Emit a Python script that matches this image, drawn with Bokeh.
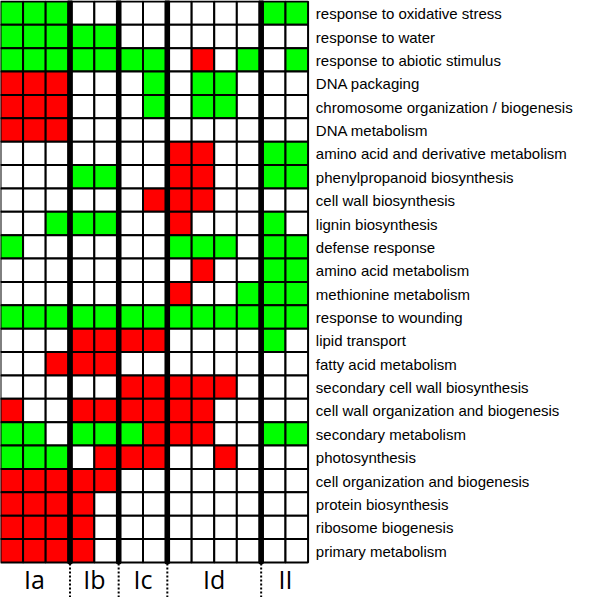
from bokeh.plotting import figure
from bokeh.models import ColumnDataSource, Range1d
from bokeh.core.properties import value
from bokeh.embed import file_html
from bokeh.resources import INLINE

# ---- data ----
terms = [
    "response to oxidative stress",
    "response to water",
    "response to abiotic stimulus",
    "DNA packaging",
    "chromosome organization / biogenesis",
    "DNA metabolism",
    "amino acid and derivative metabolism",
    "phenylpropanoid biosynthesis",
    "cell wall biosynthesis",
    "lignin biosynthesis",
    "defense response",
    "amino acid metabolism",
    "methionine metabolism",
    "response to wounding",
    "lipid transport",
    "fatty acid metabolism",
    "secondary cell wall biosynthesis",
    "cell wall organization and biogenesis",
    "secondary metabolism",
    "photosynthesis",
    "cell organization and biogenesis",
    "protein biosynthesis",
    "ribosome biogenesis",
    "primary metabolism",
]
groups = ["Ia", "Ib", "Ic", "Id", "II"]
group_sizes = [3, 2, 2, 4, 2]
# R = red (over-represented), G = green (under-represented), W = none
# one string per term, columns grouped as Ia | Ib | Ic | Id | II
cell_states = [
    "GGG WW WW WWWW GG",
    "GGG GG WW WWWW WW",
    "GGG GG GG WRWG WG",
    "RRR WW WG WGGW WW",
    "RRR WW WG WGGW WW",
    "RRR WW WW WWWW WW",
    "WWW WW WW RRWW GG",
    "WWW GG WW RRWW GG",
    "WWW WW WR RRWW WW",
    "WWG GG WW RWWW GW",
    "GWW WW WW GGGW GG",
    "WWW WW WW WRWW GG",
    "WWW WW WW RWWG GG",
    "GGG GG GG GGGG GG",
    "WWW RR RR WWWW GW",
    "WWR RR WW WWWW WW",
    "WWW WW RR RRRW WW",
    "RWW RR RR RRWW WW",
    "GGW GG GR RRWW GG",
    "GGG WR RR WWRW WW",
    "RRR RR WW WWWW WW",
    "RRR RW WW WWWW WW",
    "RRR RW WW WWWW WW",
    "RRR RW WW WWWW WW",
]
state_colors = {"R": "#FF0000", "G": "#00FF00", "W": "#FFFFFF"}

# ---- layout (reference pixel units) ----
CELL_W = 23.2
SEP = 3.6
ROW_H = 24.0
TOP = 1.0
SCALE = 584 / 600.0

# column left edges
col_left = []
group_bounds = []
x = 0.0
for gi, n in enumerate(group_sizes):
    start = x
    for _ in range(n):
        col_left.append(x)
        x += CELL_W
    group_bounds.append((start, x))
    x += SEP
grid_right = group_bounds[-1][1]
n_rows = len(terms)
grid_bottom = TOP + n_rows * ROW_H

lefts, rights, tops, bottoms, colors = [], [], [], [], []
for r, row in enumerate(cell_states):
    states = row.replace(" ", "")
    for c, s in enumerate(states):
        lefts.append(col_left[c])
        rights.append(col_left[c] + CELL_W)
        tops.append(TOP + r * ROW_H)
        bottoms.append(TOP + (r + 1) * ROW_H)
        colors.append(state_colors[s])

p = figure(width=584, height=597,
           x_range=Range1d(0, 600), y_range=Range1d(613, 0),
           output_backend="svg", toolbar_location=None,
           x_axis_type=None, y_axis_type=None,
           min_border=0, min_border_left=0, min_border_right=0,
           min_border_top=0, min_border_bottom=0)
p.grid.visible = False
p.outline_line_color = None
p.background_fill_color = "white"
p.border_fill_color = "white"

cells = ColumnDataSource(dict(left=lefts, right=rights, top=tops, bottom=bottoms, color=colors))
p.quad(left="left", right="right", top="top", bottom="bottom", source=cells,
       fill_color="color", line_color="black", line_width=2)

# thick separators between groups
sep_l = [group_bounds[i][1] for i in range(len(groups) - 1)]
sep_r = [group_bounds[i + 1][0] for i in range(len(groups) - 1)]
p.quad(left=sep_l, right=sep_r, top=[TOP - 1] * len(sep_l), bottom=[grid_bottom + 1] * len(sep_l),
       fill_color="black", line_color="black", line_width=1.5)

# dotted lines below the grid
sep_c = [(a + b) / 2 for a, b in zip(sep_l, sep_r)]
p.segment(x0=sep_c, x1=sep_c, y0=[grid_bottom + 1] * len(sep_c), y1=[613] * len(sep_c),
          line_color="black", line_width=2, line_dash="2 2")

# term labels
row_centers = [TOP + (r + 0.5) * ROW_H + 0.5 for r in range(n_rows)]
p.text(x=[grid_right + 8] * n_rows, y=row_centers, text=terms,
       text_font=value("Liberation Sans"), text_font_size="15px",
       text_baseline="middle", text_align="left", text_color="black")

# group labels
group_centers = [(a + b) / 2 for a, b in group_bounds]
p.text(x=group_centers, y=[594] * len(groups), text=groups,
       text_font=value("Open Sans"), text_font_size="25px",
       text_baseline="middle", text_align="center", text_color="black")

open("out.html", "w").write(file_html(p, INLINE))
